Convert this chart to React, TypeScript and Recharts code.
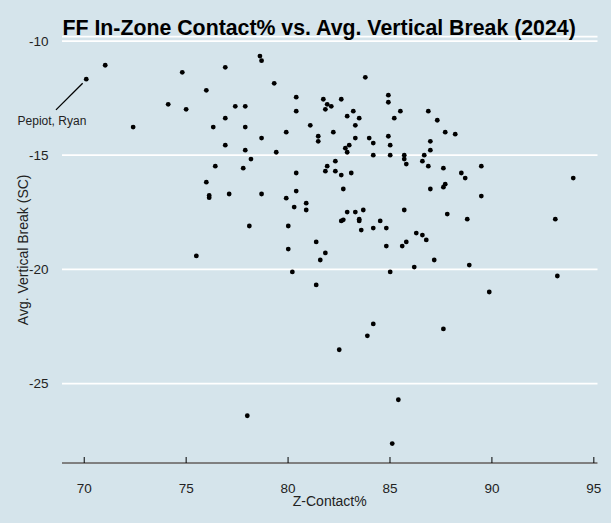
import React from "react";
import { ScatterChart, Scatter, XAxis, YAxis, CartesianGrid } from "recharts";

const zContact = [
  71.03, 74.81, 76.92, 78.62, 75.99, 74.12, 75.0, 77.41, 77.9, 72.4,
  76.33, 76.92, 77.9, 76.92, 77.9, 78.18, 76.43, 77.8, 75.99, 76.13,
  76.13, 77.11, 78.7, 79.32, 83.79, 80.4, 80.4, 81.73, 81.92, 82.12,
  81.83, 82.61, 84.92, 84.92, 83.2, 82.9, 83.49, 85.51, 85.21, 86.88,
  87.32, 81.09, 83.3, 79.91, 82.22, 87.71, 88.2, 78.7, 81.48, 81.48,
  83.3, 83.98, 84.18, 84.92, 85.01, 86.98, 86.98, 79.42, 83.0, 82.81,
  82.9, 84.18, 85.01, 85.7, 85.7, 85.8, 86.68, 86.59, 86.88, 87.62,
  82.32, 81.92, 81.83, 82.32, 82.61, 83.1, 80.4, 78.7, 80.4, 79.91,
  80.3, 80.89, 80.89, 82.71, 86.98, 87.62, 87.71, 85.7, 87.81, 82.9,
  83.3, 83.69, 89.48, 88.5, 88.69, 93.99, 89.48, 88.79, 93.11, 88.89,
  93.21, 89.87, 78.1, 75.5, 80.01, 80.01, 82.61, 82.71, 83.49, 83.49,
  83.59, 84.52, 84.18, 84.82, 86.29, 86.59, 86.78, 85.8, 85.6, 84.82,
  81.38, 81.83, 81.58, 87.17, 86.19, 80.21, 85.01, 81.38, 84.18, 83.89,
  87.62, 82.51, 78.0, 85.41, 85.11,
];

const vertBreak = [
  -11.06, -11.37, -11.15, -10.66, -12.16, -12.77, -12.99, -12.86, -12.86, -13.77,
  -13.77, -13.38, -13.77, -14.56, -14.78, -15.17, -15.48, -15.57, -16.18, -16.76,
  -16.86, -16.7, -10.86, -11.85, -11.59, -12.46, -13.07, -12.55, -12.77, -12.86,
  -12.99, -12.55, -12.37, -12.68, -13.07, -13.29, -13.38, -13.07, -13.38, -13.07,
  -13.47, -13.69, -13.69, -13.99, -13.99, -13.99, -14.08, -14.25, -14.17, -14.39,
  -14.25, -14.25, -14.47, -14.17, -14.56, -14.39, -14.78, -14.87, -14.56, -14.69,
  -14.87, -15.0, -15.0, -15.0, -15.17, -15.39, -15.0, -15.26, -15.48, -15.57,
  -15.26, -15.48, -15.7, -15.7, -15.87, -15.78, -15.78, -16.7, -16.57, -16.88,
  -17.27, -17.1, -17.4, -16.48, -16.48, -16.4, -16.27, -17.4, -17.58, -17.49,
  -17.49, -17.4, -15.48, -15.78, -16.0, -16.0, -16.79, -17.8, -17.8, -19.81,
  -20.29, -20.99, -18.1, -19.41, -18.1, -19.11, -17.88, -17.83, -17.8, -17.88,
  -18.28, -17.88, -18.19, -18.19, -18.41, -18.5, -18.71, -18.8, -18.98, -18.98,
  -18.8, -19.28, -19.59, -19.59, -19.9, -20.11, -20.11, -20.68, -22.39, -22.91,
  -22.61, -23.52, -26.41, -25.71, -27.63,
];

const labelledName = ["Pepiot, Ryan"];
const labelledContact = [70.1];
const labelledBreak = [-11.67];

const xTicks = [70, 75, 80, 85, 90, 95];
const yTicks = [-10, -15, -20, -25];

const points = zContact.map((x, i) => ({ x, y: vertBreak[i] }));
const labelled = labelledName.map((name, i) => ({
  x: labelledContact[i],
  y: labelledBreak[i],
  name,
}));

const FONT = "'Liberation Sans', Arial, Helvetica, sans-serif";
const BG = "#d5e4eb";

const Dot = (props: any) => (
  <circle cx={props.cx} cy={props.cy} r={2.4} fill="#000" />
);

const LabelledDot = (props: any) => {
  const { cx, cy, payload } = props;
  return (
    <g>
      <circle cx={cx} cy={cy} r={2.4} fill="#000" />
      <line
        x1={cx - 3.6}
        y1={cy + 4}
        x2={cx - 30.3}
        y2={cy + 30.7}
        stroke="#000"
        strokeWidth={1.3}
      />
      <text
        x={cx - 34.3}
        y={cy + 45.7}
        textAnchor="middle"
        fontFamily={FONT}
        fontSize={12}
        fill="#222"
      >
        {payload.name}
      </text>
    </g>
  );
};

export default function App() {
  return (
    <div
      style={{
        position: "absolute",
        left: 0,
        top: 0,
        width: 611,
        height: 523,
        background: BG,
      }}
    >
      <ScatterChart
        width={611}
        height={523}
        margin={{ top: 36.7, right: 13.5, bottom: 0, left: 12 }}
      >
        <CartesianGrid
          horizontal={true}
          vertical={false}
          stroke="#ffffff"
          strokeWidth={1.8}
        />
        <XAxis
          type="number"
          dataKey="x"
          domain={[68.91, 95.18]}
          ticks={xTicks}
          height={60}
          axisLine={{ stroke: "#000", strokeWidth: 1 }}
          tickLine={{ stroke: "#000", strokeWidth: 1 }}
          tickSize={-6}
          tickMargin={26.4}
          tick={{ fontSize: 13.5, fill: "#222", fontFamily: FONT }}
          label={{
            value: "Z-Contact%",
            position: "insideBottom",
            offset: 17.3,
            style: { fontSize: 14, fill: "#222", fontFamily: FONT },
          }}
        />
        <YAxis
          type="number"
          dataKey="y"
          domain={[-28.48, -9.81]}
          ticks={yTicks}
          width={50}
          axisLine={false}
          tickLine={false}
          tickSize={6}
          tickMargin={7.5}
          tick={{ fontSize: 13.5, fill: "#222", fontFamily: FONT }}
          label={{
            value: "Avg. Vertical Break (SC)",
            angle: -90,
            position: "insideLeft",
            offset: 11,
            style: {
              textAnchor: "middle",
              fontSize: 14,
              fill: "#222",
              fontFamily: FONT,
            },
          }}
        />
        <Scatter data={points} shape={Dot} isAnimationActive={false} />
        <Scatter data={labelled} shape={LabelledDot} isAnimationActive={false} />
      </ScatterChart>
      <svg
        width={611}
        height={50}
        style={{ position: "absolute", left: 0, top: 0, pointerEvents: "none" }}
      >
        <text
          x={62.5}
          y={35}
          fontFamily={FONT}
          fontWeight="bold"
          fontSize={21.3}
          fill="#000"
        >
          FF In-Zone Contact% vs. Avg. Vertical Break (2024)
        </text>
      </svg>
    </div>
  );
}
